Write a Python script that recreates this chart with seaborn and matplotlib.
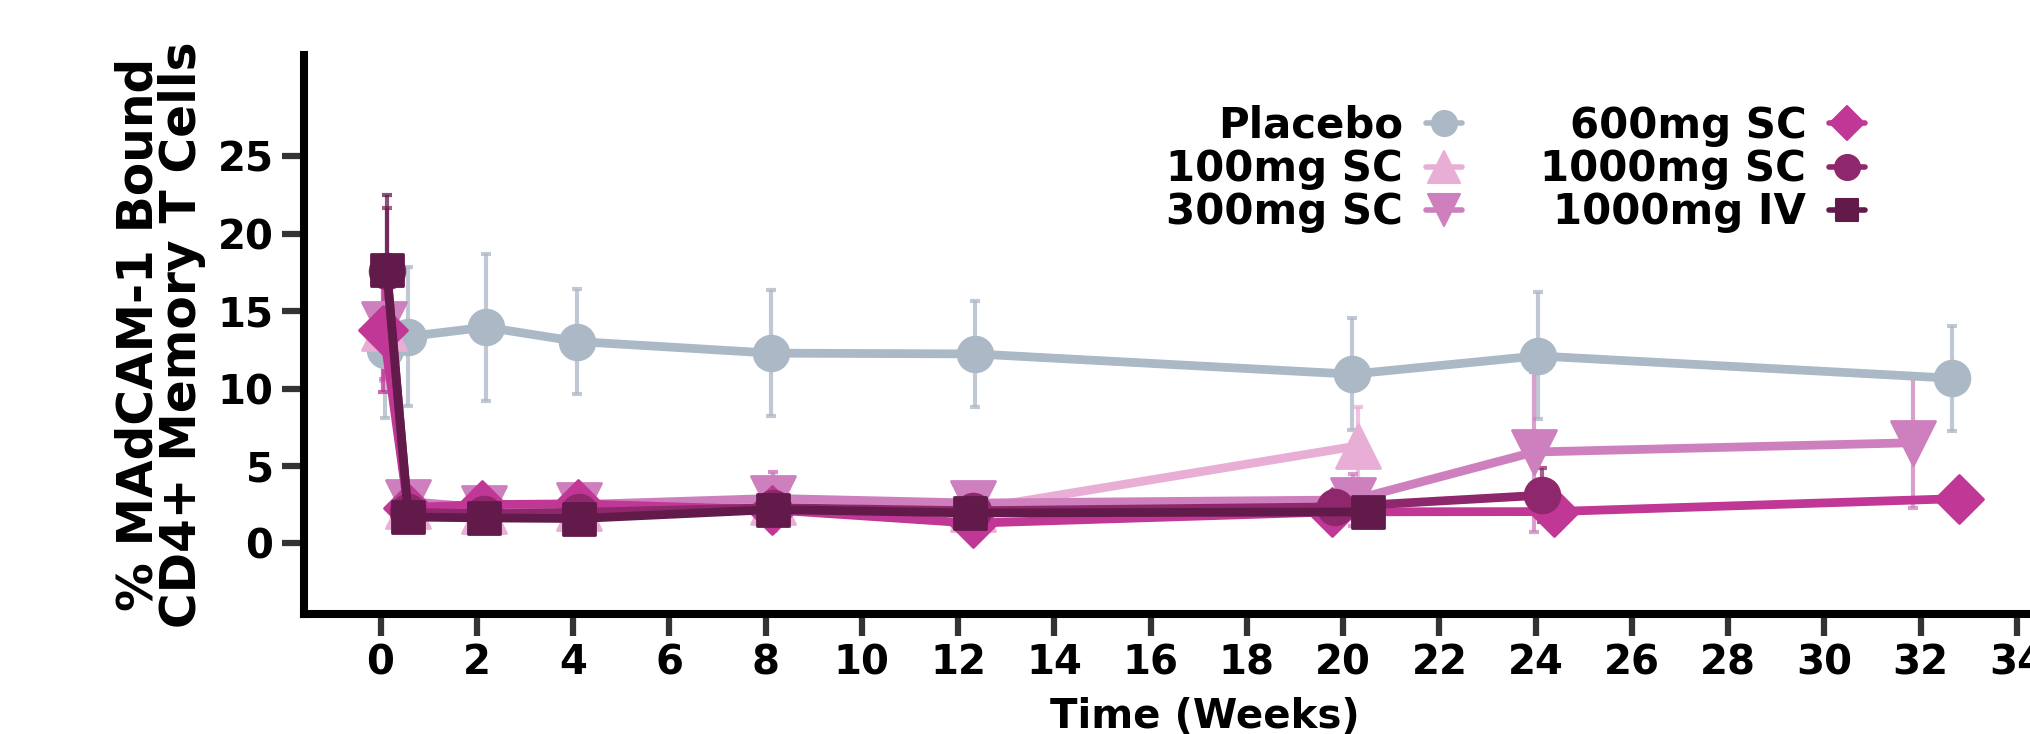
import numpy as np
import pandas as pd
import matplotlib
matplotlib.use("Agg")
import matplotlib.pyplot as plt
import matplotlib.colors as mcolors
from matplotlib.markers import MarkerStyle
from matplotlib.lines import Line2D
import seaborn as sns

# ---------------- data ----------------
groups = ["Placebo", "100mg SC", "300mg SC", "600mg SC", "1000mg SC", "1000mg IV"]
colors = ["#ABB8C5", "#E9AED6", "#CD80BD", "#C03795", "#8E276C", "#621A4B"]
markers = ["o", "^", "v", "D", "o", "s"]

placebo_weeks = [0.10, 0.57, 2.19, 4.09, 8.12, 12.35, 20.18, 24.04, 32.64]
placebo_mean = [12.5, 13.36, 13.97, 13.04, 12.29, 12.24, 10.93, 12.11, 10.67]
placebo_sd = [4.4, 4.5, 4.75, 3.4, 4.06, 3.4, 3.6, 4.1, 3.4]

sc100_weeks = [0.08, 0.57, 2.15, 4.12, 8.16, 12.30, 20.31]
sc100_mean = [13.9, 2.4, 2.1, 2.3, 2.7, 2.2, 6.3]
sc100_sd = [3.4, 1.0, 1.2, 1.0, 1.9, 1.0, 2.5]

sc300_weeks = [0.08, 0.57, 2.15, 4.12, 8.16, 12.30, 20.20, 23.97, 31.83]
sc300_mean = [14.2, 2.7, 2.3, 2.5, 2.9, 2.6, 2.8, 5.9, 6.5]
sc300_sd = [3.6, 1.2, 1.0, 1.0, 1.7, 1.0, 1.7, 5.2, 4.2]

sc600_weeks = [0.06, 0.57, 2.10, 4.10, 8.14, 12.30, 19.77, 24.38, 32.80]
sc600_mean = [13.8, 2.3, 2.5, 2.55, 2.16, 1.3, 2.03, 2.05, 2.89]
sc600_sd = [4.0, 1.0, 1.0, 1.0, 1.2, 0.8, 1.0, 1.0, 1.0]

sc1000_weeks = [0.13, 0.57, 2.15, 4.12, 8.16, 12.30, 19.83, 24.13]
sc1000_mean = [17.6, 2.0, 1.9, 2.0, 2.3, 2.1, 2.35, 3.11]
sc1000_sd = [4.1, 0.8, 0.8, 0.8, 1.0, 0.8, 0.9, 1.75]

iv1000_weeks = [0.13, 0.58, 2.15, 4.12, 8.16, 12.25, 20.52]
iv1000_mean = [17.68, 1.70, 1.64, 1.60, 2.18, 1.96, 2.03]
iv1000_sd = [4.8, 0.6, 0.6, 0.6, 0.8, 0.7, 0.8]

x_ticks = list(range(0, 35, 2))
y_ticks = [0, 5, 10, 15, 20, 25]
x_label = "Time (Weeks)"
y_label = "% MAdCAM-1 Bound\nCD4+ Memory T Cells"

series = {
    "Placebo": (placebo_weeks, placebo_mean, placebo_sd),
    "100mg SC": (sc100_weeks, sc100_mean, sc100_sd),
    "300mg SC": (sc300_weeks, sc300_mean, sc300_sd),
    "600mg SC": (sc600_weeks, sc600_mean, sc600_sd),
    "1000mg SC": (sc1000_weeks, sc1000_mean, sc1000_sd),
    "1000mg IV": (iv1000_weeks, iv1000_mean, iv1000_sd),
}

rows = []
for g in groups:
    w, m, s = series[g]
    for wi, mi, si in zip(w, m, s):
        rows.append({"group": g, "week": wi, "value": mi, "sd": si})
df = pd.DataFrame(rows)

# ---------------- style ----------------
sns.set_style("ticks")
plt.rcParams["font.family"] = ["DejaVu Sans"]
plt.rcParams["font.weight"] = "bold"
plt.rcParams["text.color"] = "black"
plt.rcParams["axes.labelcolor"] = "black"

W, H = 2030, 734
fig = plt.figure(figsize=(W / 100, H / 100), dpi=100)
ax = fig.add_axes([304 / W, 1 - 614 / H, (2106 - 304) / W, (614 - 55) / H])

palette = dict(zip(groups, colors))
marker_map = dict(zip(groups, markers))
msize = {"o": 25, "^": 32, "v": 32, "D": 24, "s": 23}

# error bars
for g, c in zip(groups, colors):
    sub = df[df.group == g]
    ax.errorbar(sub.week, sub.value, yerr=sub.sd, fmt="none", ecolor=c,
                elinewidth=3.0, capsize=3.4, capthick=3.0, alpha=0.75, zorder=1.8)

sns.lineplot(data=df, x="week", y="value", hue="group", style="group",
             hue_order=groups, style_order=groups, palette=palette,
             markers=marker_map, dashes=False, estimator=None, errorbar=None,
             sort=True, linewidth=6.3, legend=False, ax=ax)

hex_to_group = {mcolors.to_hex(c): g for g, c in zip(groups, colors)}
for line in ax.lines:
    g = hex_to_group.get(mcolors.to_hex(line.get_color()))
    if g is None:
        continue
    m = marker_map[g]
    line.set_marker(MarkerStyle(m, joinstyle="round"))
    line.set_markersize(msize[m])
    line.set_markeredgecolor(palette[g])
    line.set_markerfacecolor(palette[g])
    line.set_markeredgewidth(2)
    line.set_solid_joinstyle("round")
    line.set_solid_capstyle("round")

ax.set_xlim(-1.59, 35.85)
ax.set_ylim(-4.57, 31.56)
ax.set_xticks(x_ticks)
ax.set_yticks(y_ticks)
ax.set_xlabel(x_label, fontsize=29, fontweight="bold", labelpad=10, color="black")
ax.set_ylabel(y_label, fontsize=35, fontweight="bold", labelpad=8, linespacing=0.9,
              color="black")
ax.tick_params(axis="both", direction="out", length=16, width=4.5, color="#333333",
               labelsize=29, labelcolor="black")
ax.tick_params(axis="x", pad=5)
ax.tick_params(axis="y", pad=6)
for lab in ax.get_xticklabels() + ax.get_yticklabels():
    lab.set_fontweight("bold")
sns.despine(ax=ax)
for sp in ["left", "bottom"]:
    ax.spines[sp].set_linewidth(5.8)
    ax.spines[sp].set_color("black")

handles = []
for g, c, m in zip(groups, colors, markers):
    handles.append(Line2D([], [], color=c, lw=4,
                          marker=MarkerStyle(m, joinstyle="round"),
                          markersize=msize[m] * 0.72, mec=c, mfc=c, mew=1.5))
leg = ax.legend(handles, groups, ncol=2, markerfirst=False, frameon=False,
                prop={"weight": "bold", "size": 30.2}, handlelength=0.85,
                handletextpad=0.55, columnspacing=1.88, labelspacing=0.03,
                borderpad=0, loc="upper right",
                bbox_to_anchor=(1886 / W, 1 - 84 / H),
                bbox_transform=fig.transFigure)
for t in leg.get_texts():
    t.set_color("black")

fig.savefig("out.png", dpi=100)
